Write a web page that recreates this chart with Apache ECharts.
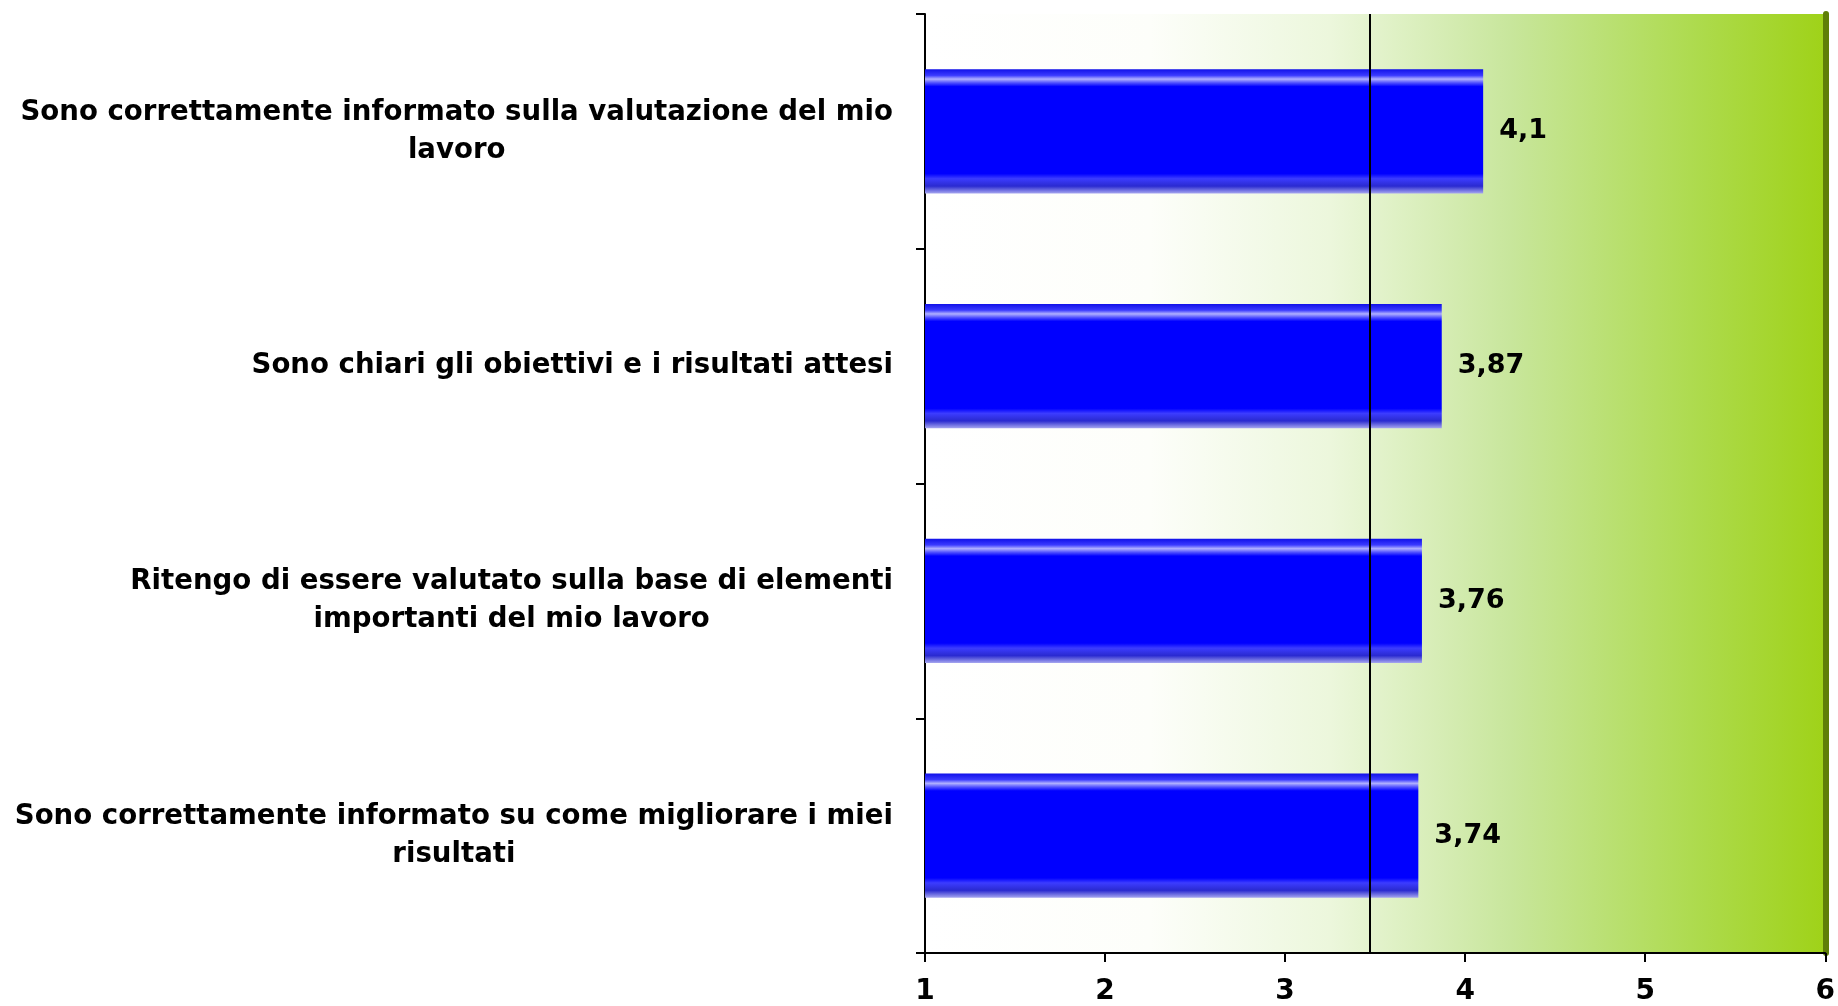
<!DOCTYPE html>
<html>
<head>
<meta charset="utf-8">
<script src="https://cdn.jsdelivr.net/npm/echarts@6/dist/echarts.min.js"></script>
<style>
html,body{margin:0;padding:0;background:#fff;}
#chart{width:1838px;height:1006px;}
</style>
</head>
<body>
<div id="chart"></div>
<script>
const categories = [
  "Sono correttamente informato sulla valutazione del mio\nlavoro",
  "Sono chiari gli obiettivi e i risultati attesi",
  "Ritengo di essere valutato sulla base di elementi\nimportanti del mio lavoro",
  "Sono correttamente informato su come migliorare i miei\nrisultati"
];
const values = [4.1, 3.87, 3.76, 3.74];
const referenceValue = 3.47;
const xTicks = [1, 2, 3, 4, 5, 6];

const FONT = '"DejaVu Sans", Verdana, sans-serif';
const chart = echarts.init(document.getElementById('chart'));

const barGradient = new echarts.graphic.LinearGradient(0, 0, 0, 1, [
  {offset: 0, color: '#1010e8'},
  {offset: 0.05, color: '#3a3aff'},
  {offset: 0.08, color: '#b0b0ff'},
  {offset: 0.11, color: '#5050ff'},
  {offset: 0.14, color: '#0000ff'},
  {offset: 0.84, color: '#0000ff'},
  {offset: 0.88, color: '#3c3cff'},
  {offset: 0.94, color: '#2a2ad0'},
  {offset: 1, color: '#a8a8f0'}
]);

const wallGradient = new echarts.graphic.LinearGradient(0, 0, 1, 0, [
  {offset: 0, color: '#ffffff'},
  {offset: 0.25, color: '#fdfefa'},
  {offset: 0.45, color: '#ecf7dc'},
  {offset: 0.65, color: '#c8e69c'},
  {offset: 0.85, color: '#aedb50'},
  {offset: 1, color: '#9fd218'}
]);

chart.setOption({
  animation: false,
  backgroundColor: '#ffffff',
  grid: {
    left: 925, right: 9, top: 14, bottom: 53,
    show: true, backgroundColor: wallGradient, borderWidth: 0
  },
  xAxis: {
    type: 'value', min: 1, max: 6, interval: 1,
    splitLine: {show: false},
    axisLine: {show: true, onZero: false, lineStyle: {color: '#000', width: 2}},
    axisTick: {show: true, length: 9, lineStyle: {color: '#000', width: 2}},
    axisLabel: {
      color: '#000', fontFamily: FONT, fontWeight: 'bold', fontSize: 28, margin: 25,
      formatter: function (v) { return xTicks.indexOf(v) >= 0 ? String(v) : ''; }
    }
  },
  yAxis: [{
    type: 'category', data: categories, inverse: true,
    axisLine: {show: true, lineStyle: {color: '#000', width: 2}},
    axisTick: {show: true, length: 9, lineStyle: {color: '#000', width: 2}},
    axisLabel: {
      margin: 32,
      formatter: function (v) {
        return v.split('\n').map(function (l) { return '{c|' + l + '}'; }).join('\n');
      },
      rich: {
        c: {align: 'center', color: '#000', fontFamily: FONT, fontWeight: 'bold', fontSize: 27.6, lineHeight: 38}
      }
    }
  }, {
    type: 'category', data: categories, inverse: true, position: 'right',
    axisLine: {show: true, lineStyle: {color: '#5f7f06', width: 6}},
    axisTick: {show: false}, axisLabel: {show: false}
  }],
  series: [{
    type: 'bar',
    data: values,
    barWidth: '53%',
    itemStyle: {color: barGradient},
    label: {
      show: true, position: 'right', distance: 16,
      color: '#000', fontFamily: FONT, fontWeight: 'bold', fontSize: 27,
      formatter: function (p) { return String(p.value).replace('.', ','); }
    },
    markLine: {
      silent: true, symbol: 'none',
      label: {show: false},
      lineStyle: {color: '#000', width: 2, type: 'solid'},
      data: [{xAxis: referenceValue}]
    },
    z: 3
  }]
});
</script>
</body>
</html>
